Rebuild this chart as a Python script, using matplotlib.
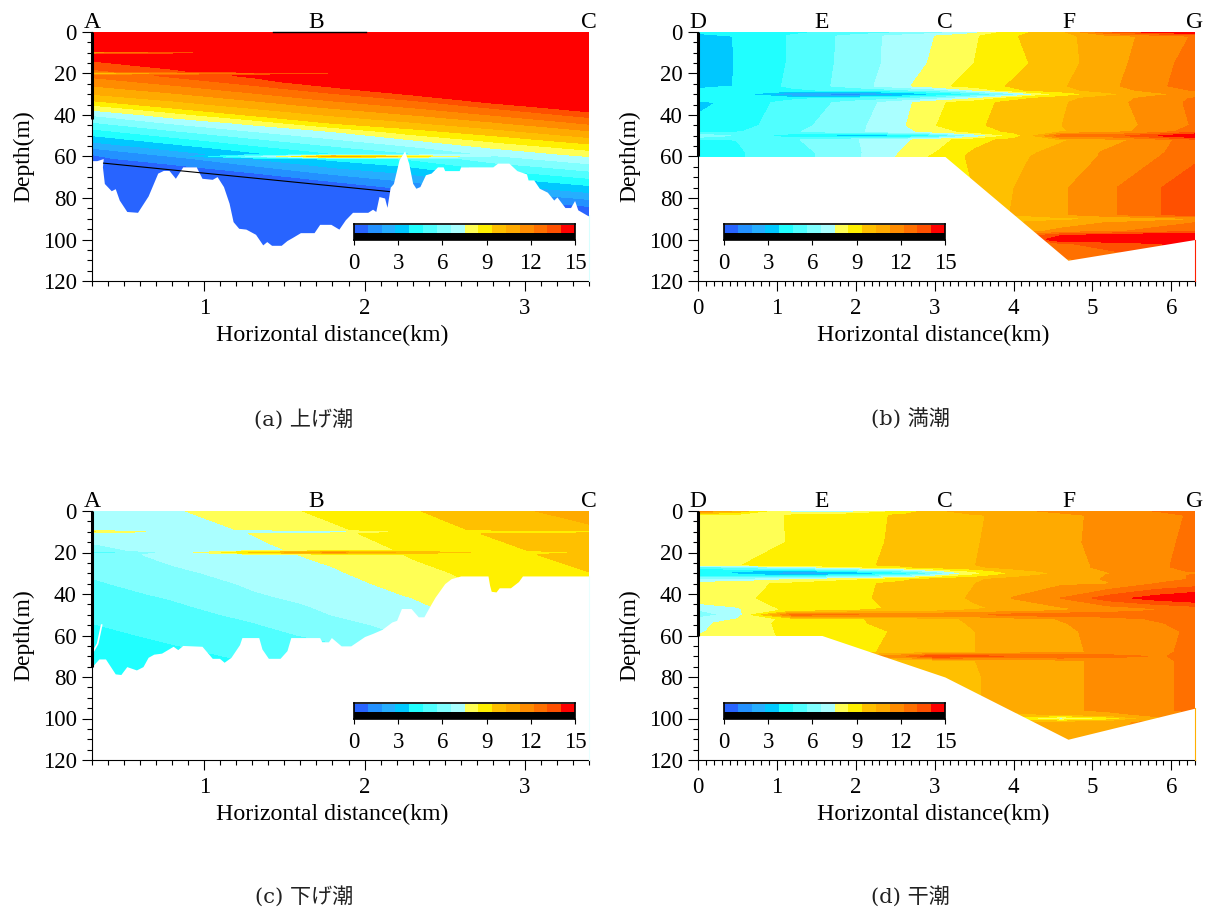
import numpy as np
import matplotlib
matplotlib.use("Agg")
import matplotlib.pyplot as plt
from matplotlib.colors import ListedColormap, BoundaryNorm

SERIF = "Liberation Serif"
plt.rcParams["font.family"] = SERIF

level_values = [0, 0.9375, 1.875, 2.8125, 3.75, 4.6875, 5.625, 6.5625, 7.5, 8.4375,
                9.375, 10.3125, 11.25, 12.1875, 13.125, 14.0625, 15]
level_colors = ["#2864ff", "#2391ff", "#26aeff", "#00c8ff", "#20ffff", "#50ffff", "#80ffff", "#aaffff",
                "#ffff55", "#fff000", "#ffc000", "#ffaa00", "#ff8c00", "#ff7000", "#ff5000", "#ff0000"]
cbar_ticks = [0, 3, 6, 9, 12, 15]

# ---- panel (a) / (c) stations
ac_x = [0.3, 0.8, 1.3, 1.8, 2.3, 2.8, 3.4]
a_depth = [0, 9, 10, 11, 14, 19, 20, 21, 24, 28, 32, 36, 40, 44, 48, 52, 56, 59, 60, 61, 64, 68, 72, 76, 80, 84, 88, 104]
a_values = [
    [15, 15, 15, 15, 15, 15, 15],
    [15, 15, 15, 15, 15, 15, 15],
    [10, 12.5, 15, 15, 15, 15, 15],
    [15, 15, 15, 15, 15, 15, 15],
    [14.06, 15, 15, 15, 15, 15, 15],
    [12.89, 13.81, 15, 15, 15, 15, 15],
    [8.5, 11, 12.5, 13.8, 15, 15, 15],
    [12.42, 13.32, 14.3, 15, 15, 15, 15],
    [11.72, 12.58, 13.55, 15, 15, 15, 15],
    [10.78, 11.6, 12.54, 13.54, 15, 15, 15],
    [9.85, 10.61, 11.53, 12.5, 13.39, 15, 15],
    [8.13, 9.63, 10.52, 11.46, 12.32, 13.35, 15],
    [6.63, 7.97, 9.5, 10.42, 11.25, 12.22, 13.47],
    [5.48, 6.63, 7.73, 9.38, 10.18, 11.08, 12.3],
    [4.33, 5.48, 6.53, 7.5, 9.0, 9.95, 11.14],
    [3.13, 4.33, 5.42, 6.43, 7.5, 8.75, 9.97],
    [1.88, 3.13, 4.31, 5.36, 6.35, 7.5, 8.75],
    [0.94, 2.19, 3.45, 4.55, 5.48, 6.7, 7.81],
    [0.8, 1.88, 6, 11, 9, 6.43, 7.5],
    [0.7, 1.56, 2.86, 4.02, 4.9, 6.16, 7.23],
    [0.5, 0.9, 1.98, 3.19, 4.04, 5.36, 6.43],
    [0.5, 0.5, 0.9, 2.06, 2.98, 4.29, 5.36],
    [0.5, 0.5, 0.6, 0.94, 1.96, 3.19, 4.29],
    [0.5, 0.5, 0.5, 0.7, 0.94, 2.06, 3.19],
    [0.5, 0.5, 0.5, 0.5, 0.7, 0.94, 2.06],
    [0.5, 0.5, 0.5, 0.5, 0.5, 0.7, 0.94],
    [0.5, 0.5, 0.5, 0.5, 0.5, 0.5, 0.7],
    [0.5, 0.5, 0.5, 0.5, 0.5, 0.5, 0.5],
]
a_bottom_x = [0.3, 0.33, 0.37, 0.365, 0.377, 0.42, 0.445, 0.47, 0.517, 0.584, 0.65, 0.71, 0.745, 0.78, 0.82, 0.866, 0.95,
              0.986, 1.05, 1.08, 1.12, 1.155, 1.18, 1.215, 1.26, 1.32, 1.365, 1.39, 1.42, 1.48, 1.516, 1.55, 1.6, 1.685,
              1.72, 1.79, 1.84, 1.88, 1.925, 2.02, 2.05, 2.07, 2.09, 2.125, 2.14, 2.16, 2.18, 2.215, 2.25, 2.275, 2.3,
              2.32, 2.345, 2.38, 2.415, 2.455, 2.49, 2.5, 2.59, 2.6, 2.8, 2.83, 2.9, 2.95, 3.01, 3.02, 3.055, 3.09, 3.14,
              3.18, 3.2, 3.25, 3.285, 3.31, 3.33, 3.395, 3.4]
a_bottom_d = [62, 62, 61, 65, 73, 76.5, 75.5, 81, 86.5, 86.9, 79, 68, 66.7, 66.7, 70.5, 65, 65,
              70.5, 71, 69.7, 74.5, 82.5, 91.4, 94.6, 95, 97.5, 102.6, 101, 102.8, 102.8, 100.5, 99, 96.7, 96.7,
              92.7, 92.7, 95, 90.5, 86.9, 86.9, 85.4, 86.5, 79.3, 80, 84.5, 74.8, 73, 61.6, 57.3, 63.2, 72.9,
              75.3, 74.5, 68.8, 68, 65, 65, 66.8, 66.8, 65, 65, 63.2, 63.2, 66.8, 68.4, 71.3, 71.3, 75.3, 77.2,
              81, 79.5, 84.6, 84.6, 81.2, 85.7, 88.6, 88]
a_line_x = [0.372, 2.155]
a_line_d = [63.2, 76.9]
a_top_line_x = [1.43, 2.01]
a_top_line_d = [0.2, 0.2]

c_depth = [0, 9, 10, 11, 15, 19, 20, 21, 25, 30, 35, 40, 45, 50, 55, 60, 65, 70, 75, 80, 85]
c_values = [
    [7, 7.4, 8.0, 8.7, 9.3, 10, 10.7],
    [6.9, 7.12, 7.6, 8.28, 9.0, 9.55, 10.15],
    [8.5, 7, 6, 6.5, 8.5, 8.5, 8.5],
    [6.85, 7.05, 7.52, 8.19, 8.94, 9.45, 10.08],
    [6.6, 6.93, 7.39, 8.02, 8.76, 9.3, 9.92],
    [6.36, 6.81, 7.25, 7.84, 8.6, 9.16, 9.76],
    [4.5, 6.78, 9.5, 11.5, 10, 9.13, 9.4],
    [6.25, 6.75, 7.18, 7.75, 8.53, 9.1, 9.69],
    [6.0, 6.62, 7.04, 7.58, 8.36, 8.97, 9.53],
    [5.74, 6.38, 6.87, 7.37, 8.1, 8.8, 9.35],
    [5.5, 6.08, 6.69, 7.17, 7.85, 8.64, 9.2],
    [5.29, 5.78, 6.49, 6.98, 7.6, 8.47, 9.07],
    [5.07, 5.52, 6.16, 6.78, 7.35, 8.2, 8.9],
    [4.86, 5.3, 5.83, 6.58, 7.12, 7.97, 8.9],
    [4.65, 5.09, 5.54, 6.24, 6.9, 7.9, 8.9],
    [4.45, 4.87, 5.29, 5.87, 6.65, 7.9, 8.9],
    [4.26, 4.65, 5.05, 5.5, 6.65, 7.9, 8.9],
    [4.06, 4.45, 4.82, 5.3, 6.65, 7.9, 8.9],
    [3.87, 4.25, 4.6, 5.3, 6.65, 7.9, 8.9],
    [3.6, 4.06, 4.4, 5.3, 6.65, 7.9, 8.9],
    [3.4, 3.87, 4.4, 5.3, 6.65, 7.9, 8.9],
]
c_bottom_x = [0.3, 0.343, 0.384, 0.445, 0.48, 0.517, 0.577, 0.618, 0.65, 0.685, 0.734, 0.806, 0.835, 0.866, 0.986,
              1.05, 1.095, 1.124, 1.167, 1.22, 1.235, 1.34, 1.36, 1.4, 1.473, 1.516, 1.54, 1.72, 1.733, 1.775, 1.793,
              1.854, 1.914, 2.0, 2.05, 2.11, 2.17, 2.2, 2.23, 2.29, 2.335, 2.37, 2.41, 2.44, 2.5, 2.54, 2.6, 2.77,
              2.78, 2.79, 2.82, 2.84, 2.91, 2.96, 2.985, 3.4]
c_bottom_d = [75, 71.3, 71.3, 78.5, 78.8, 75, 76.6, 75, 70.5, 69, 68.5, 65.2, 66.8, 64.8, 65.2,
              71, 71, 72.9, 70.5, 64.4, 61, 61, 66.5, 71, 71, 67.3, 61, 61, 63, 63, 61,
              65, 65, 60.5, 59, 57, 53.5, 52.7, 47, 47, 51, 51, 45.5, 41.5, 35, 32.6, 31.3, 31.3,
              35.8, 38.7, 39, 37, 37, 34, 31.3, 31.3]
c_sliver_x = [0.305, 0.335, 0.36]
c_sliver_d = [68, 64, 55]

# ---- panel (b) / (d) stations
bd_x = [0, 0.5, 1.2, 2, 2.6, 3, 3.5, 4, 4.6, 5.2, 5.8, 6.3]
b_depth = [0, 2, 15, 26, 28, 30, 32, 34, 45, 48, 50, 52, 58, 60, 75, 88, 90, 92, 96, 98, 100, 102, 110]
b_values = [
    [4.2, 4.2, 4.5, 5, 5.5, 6, 7, 9, 10, 13, 14.5, 15],
    [3.0, 3.85, 4.8, 6, 7, 7.5, 8.3, 9.3, 10, 10.9, 11.5, 12.3],
    [2.9, 3.85, 4.8, 6.05, 7.0, 7.65, 8.44, 9.1, 9.95, 10.85, 11.8, 12.6],
    [3.0, 3.85, 4.9, 6.1, 7.3, 8.1, 8.9, 9.5, 10.2, 11, 12, 12.6],
    [4.2, 4.2, 4.5, 5, 5.5, 6, 7.5, 9.2, 10, 10.8, 11.6, 12.3],
    [4.7, 4, 1.5, 1, 2.5, 3.5, 4.5, 6, 8.5, 10, 11, 11.5],
    [4.3, 4.3, 4.5, 5, 5.5, 6.2, 7.4, 9, 10, 10.8, 11.6, 12.3],
    [3.4, 4.2, 5, 6, 7.2, 8.2, 9.0, 9.7, 10.2, 10.9, 11.7, 12.4],
    [4.1, 4.3, 5.3, 6.3, 7.4, 8.4, 9.1, 10, 10.3, 10.8, 11.5, 12.3],
    [4.5, 4.6, 5.5, 6.4, 7.2, 7.9, 8.8, 9.6, 10.2, 10.9, 11.6, 12.8],
    [6.2, 5.5, 3.8, 2.8, 3.2, 4.2, 6.5, 8.6, 12.7, 12.6, 14, 15],
    [4.6, 4.7, 5.5, 6.5, 7.3, 8, 9, 9.7, 10.2, 10.9, 11.7, 12.8],
    [4.1, 4.6, 5.2, 6.4, 7.6, 8.4, 9.5, 10, 10.6, 11.4, 12, 12.8],
    [4.1, 4.6, 5.2, 6.4, 7.7, 8.6, 9.6, 10.1, 10.7, 11.4, 12.1, 12.9],
    [4.1, 4.6, 5.2, 6.4, 7.7, 8.6, 9.4, 10.3, 11.1, 12, 13, 13.8],
    [4.1, 4.6, 5.2, 6.4, 7.7, 8.6, 9.5, 10.4, 11.1, 12, 13, 13.8],
    [4.1, 4.6, 5.2, 6.4, 7.7, 8.6, 9.5, 9.5, 10, 10.3, 10.6, 11],
    [4.1, 4.6, 5.2, 6.4, 7.7, 8.6, 9.5, 10.4, 10.8, 11.3, 11.8, 12.2],
    [4.1, 4.6, 5.2, 6.4, 7.7, 8.6, 10.5, 10.8, 11.5, 12, 12.5, 13],
    [4.1, 4.6, 5.2, 6.4, 7.7, 8.6, 11, 12, 14, 14.5, 15, 15],
    [4.1, 4.6, 5.2, 6.4, 7.7, 8.6, 11, 12, 15, 15, 15, 15],
    [4.1, 4.6, 5.2, 6.4, 7.7, 8.6, 11, 11.5, 13, 13.5, 14, 14.5],
    [4.1, 4.6, 5.2, 6.4, 7.7, 8.6, 11, 11.3, 12, 12.5, 13, 13.5],
]
b_bottom_x = [0, 3.13, 4.69, 6.3]
b_bottom_d = [60, 60, 110, 100]

d_depth = [0, 2, 15, 26, 27, 29, 30, 31, 33, 35, 42, 47, 48, 50, 52, 54, 58, 68, 70, 72, 80, 96, 98, 100, 102, 110]
d_values = [
    [12, 10, 7, 7, 8.5, 10, 11, 11, 11.5, 12, 12.2, 12.4],
    [8, 8.1, 8.5, 9.1, 9.5, 9.8, 10.2, 10.6, 11, 11.5, 11.9, 12.3],
    [7.8, 8.0, 8.5, 9.1, 9.55, 9.85, 10.25, 10.65, 11.05, 11.5, 11.95, 12.4],
    [8.3, 8.4, 8.8, 9.2, 9.6, 10, 10.3, 10.6, 11, 11.4, 12, 12.5],
    [5, 6, 7, 8.3, 9.2, 9.8, 10.2, 10.6, 11, 11.4, 12, 12.5],
    [3.8, 3.8, 3, 4.5, 5.5, 7, 8.6, 10, 10.6, 11.3, 11.8, 12.3],
    [4, 3.5, 1.7, 2.5, 4, 5.5, 8, 9.5, 10.5, 11.2, 11.6, 12],
    [4.2, 4.2, 3.5, 4.5, 5.5, 7, 8.6, 10, 10.6, 11.3, 11.8, 12.3],
    [6.5, 6.7, 7.5, 8.3, 9.2, 9.8, 10.2, 10.6, 11, 11.3, 11.8, 12.3],
    [8, 8.2, 8.6, 9.2, 9.6, 10, 10.3, 10.7, 11.1, 11.2, 12.2, 12.6],
    [8, 8.2, 8.9, 9.2, 9.7, 10, 10.4, 11.3, 12.2, 13.6, 14.5, 15],
    [7, 7.4, 8.8, 9.2, 9.5, 9.9, 10.2, 10.5, 11.1, 11.7, 12.2, 12.6],
    [6.5, 7.4, 8.8, 9.4, 9.7, 10.1, 10.5, 10.9, 11.2, 11.8, 12.2, 12.7],
    [6, 7, 12.5, 12.2, 12, 12, 12, 12.5, 12.8, 12.7, 12.7, 12.7],
    [6.8, 7.5, 8.8, 9.3, 9.7, 10, 10.5, 10.9, 11.3, 11.8, 12.3, 12.8],
    [7.2, 8, 8.7, 9.3, 9.6, 10, 10.4, 10.8, 11.2, 11.6, 12.1, 12.5],
    [7.4, 7.9, 8.7, 9.1, 9.5, 10, 10.3, 10.7, 11.1, 11.5, 12, 12.3],
    [8, 8, 8.5, 9.2, 9.6, 10, 10.3, 10.7, 11.1, 11.4, 12, 12.4],
    [8, 8, 8.5, 11, 12, 14, 13.5, 13, 13, 12.6, 12.1, 12.4],
    [8, 8, 8.5, 9.2, 9.6, 10, 10.3, 10.7, 11.1, 11.4, 12, 12.4],
    [8, 8, 8.5, 9.2, 9.6, 9.9, 10.2, 10.8, 11.1, 11.4, 12, 12.4],
    [8, 8, 8.5, 9.2, 9.6, 9.9, 10.2, 10.8, 11.1, 11.4, 12, 12.4],
    [8, 8, 8.5, 9.2, 9.6, 9.9, 10.2, 10, 10.5, 11, 11.5, 12],
    [8, 8, 8.5, 9.2, 9.6, 9.9, 10.2, 9, 7, 8.5, 11, 12],
    [8, 8, 8.5, 9.2, 9.6, 9.9, 10.2, 10.5, 10.7, 11, 11.5, 12],
    [8, 8, 8.5, 9.2, 9.6, 9.9, 10.2, 10.6, 10.9, 11.2, 11.5, 12],
]
d_bottom_x = [0, 1.57, 3.13, 4.69, 6.3]
d_bottom_d = [60, 60, 80, 110, 95]

ac_xticks = [1, 2, 3]
bd_xticks = [0, 1, 2, 3, 4, 5, 6]
ac_top_names = ["A", "B", "C"]
ac_top_pos = [0.3, 1.7, 3.4]
bd_top_names = ["D", "E", "C", "F", "G"]
bd_top_pos = [0, 1.57, 3.13, 4.7, 6.3]
y_ticks = [0, 20, 40, 60, 80, 100, 120]

captions = ["(a) 上げ潮", "(b) 満潮", "(c) 下げ潮", "(d) 干潮"]

W, H = 1210, 911
fig = plt.figure(figsize=(W / 100, H / 100), dpi=100)
cmap = ListedColormap(level_colors)
cmap.set_over(level_colors[-1])
cmap.set_under(level_colors[0])
norm = BoundaryNorm(level_values, cmap.N)


def rect(x0, y0, x1, y1):
    return [x0 / W, 1 - y1 / H, (x1 - x0) / W, (y1 - y0) / H]


def panel(px, py, x, depth, values, bot_x, bot_d, xlim, xticks, names, pos,
          edge_depth, right_color, caption, cbar_px, cap_x, cap_y, xlabel_frac):
    ax = fig.add_axes(rect(px, py, px + 497, py + 249))
    ax.contourf(x, depth, np.array(values), levels=level_values, cmap=cmap, norm=norm, extend="both")
    ax.fill_between(bot_x, bot_d, 125, color="white", lw=0, zorder=2)
    ax.set_xlim(*xlim)
    ax.set_ylim(120, 0)
    ax.spines[["top", "right"]].set_visible(False)
    ax.spines[["left", "bottom"]].set_linewidth(0.8)
    ax.set_xticks(xticks)
    ax.set_xticks(np.arange(xlim[0], xlim[1] + 0.001, 0.1), minor=True)
    ax.set_yticks(y_ticks)
    ax.set_yticks(np.arange(0, 121, 5), minor=True)
    ax.tick_params(axis="x", which="major", length=7, width=0.8, labelsize=16.5, pad=5)
    ax.tick_params(axis="y", which="major", length=7, width=0.8, labelsize=16.5, pad=4)
    ax.tick_params(axis="both", which="minor", length=3.5, width=0.8)
    ax.set_xlabel("Horizontal distance(km)", fontsize=17.2, va="center")
    ax.xaxis.set_label_coords(xlabel_frac, -54 / 249)
    ax.set_ylabel("Depth(m)", fontsize=17, labelpad=6)
    for n, p in zip(names, pos):
        ax.text(p, -4.5, n, ha="center", va="center", fontsize=17, clip_on=False)
    ax.plot([xlim[0], xlim[0]], [0, edge_depth], color="k", lw=2.2, clip_on=False, zorder=5, solid_capstyle="butt")
    ax.plot([xlim[1], xlim[1]], [bot_d[-1], 120], color=right_color, lw=0.8, clip_on=False, zorder=5)

    cax = fig.add_axes(rect(cbar_px, py + 192, cbar_px + 221, py + 208))
    mids = np.array(level_values[:-1]) + 0.01
    cax.pcolormesh(level_values, [0, 1], [mids], cmap=cmap, norm=norm)
    cax.axhspan(-0.8, 0, color="k", lw=0)
    cax.set_xlim(0, 15)
    cax.set_ylim(-0.8, 1.15)
    cax.set_yticks([])
    cax.set_xticks(cbar_ticks)
    cax.tick_params(axis="x", length=3.5, width=0.8, labelsize=16.5, pad=6)
    for s in cax.spines.values():
        s.set_linewidth(1.2)
    fig.text(cap_x / W, 1 - cap_y / H, caption, ha="center", va="center", fontsize=15.2,
             family=["DejaVu Serif", "Noto Sans CJK JP"], color="#222222")
    return ax


ax_a = panel(92, 32, ac_x, a_depth, a_values, a_bottom_x, a_bottom_d, (0.3, 3.4), ac_xticks, ac_top_names,
             ac_top_pos, 42, "#d8ffff", captions[0], 354, 304, 419, 240.5 / 497)
ax_a.plot(a_line_x, a_line_d, color="k", lw=0.8, zorder=4)
ax_a.plot(a_top_line_x, a_top_line_d, color="k", lw=1.0, zorder=4, clip_on=False)

panel(698, 32, bd_x, b_depth, b_values, b_bottom_x, b_bottom_d, (0, 6.3), bd_xticks, bd_top_names,
      bd_top_pos, 60, "#ff2000", captions[1], 724, 910, 419, 235.5 / 497)

ax_c = panel(92, 511, ac_x, c_depth, c_values, c_bottom_x, c_bottom_d, (0.3, 3.4), ac_xticks, ac_top_names,
             ac_top_pos, 75, "#e8ffff", captions[2], 354, 304, 896, 240.5 / 497)
ax_c.plot(c_sliver_x, c_sliver_d, color="white", lw=1.2, zorder=4)

panel(698, 511, bd_x, d_depth, d_values, d_bottom_x, d_bottom_d, (0, 6.3), bd_xticks, bd_top_names,
      bd_top_pos, 60, "#ffb000", captions[3], 724, 910, 896, 235.5 / 497)

fig.savefig("out.png", dpi=100)
